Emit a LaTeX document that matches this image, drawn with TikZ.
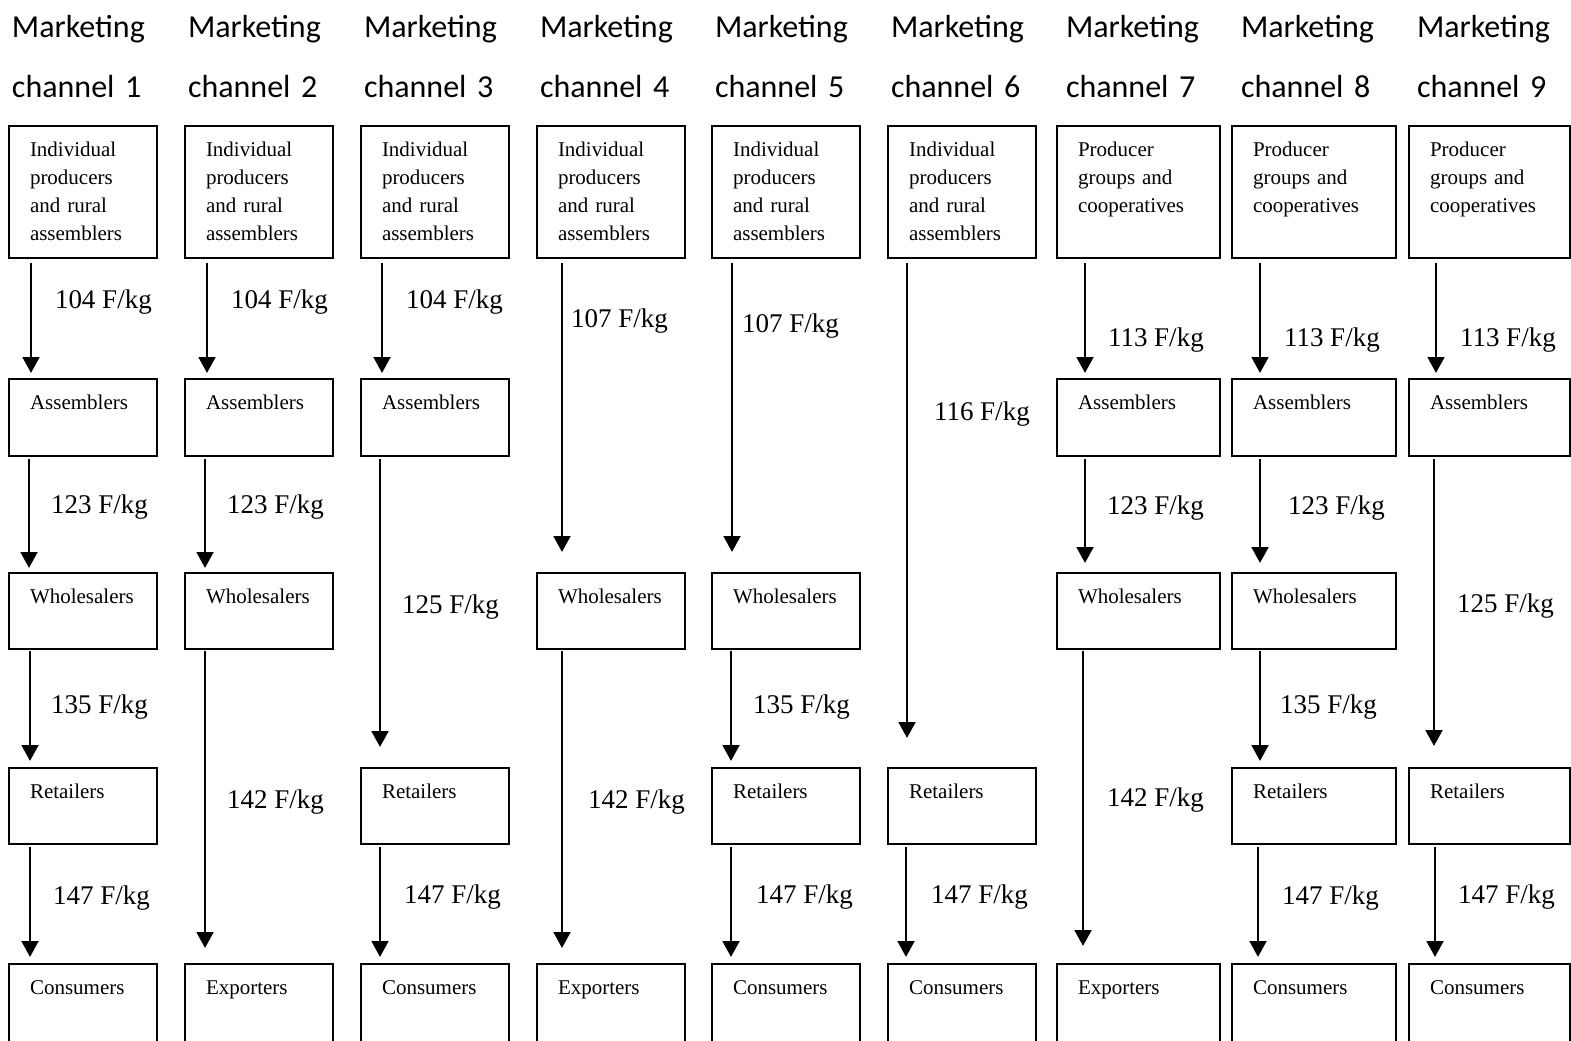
\documentclass[tikz,border=0pt]{standalone}
\usepackage{fontspec}
\setmainfont{Liberation Serif}
\newfontfamily\headfont{Carlito}
\usetikzlibrary{arrows.meta,calc}

% one unit = one pixel of a 1571 x 1040 sheet (0.75pt), y grows downwards
\tikzset{
  stage/.style 2 args={draw, line width=1.5pt, anchor=north west, inner sep=0pt,
    outer sep=0pt, minimum width=#1*0.75pt, minimum height=#2*0.75pt},
  stagetext/.style={anchor=base west, inner sep=0pt, outer sep=0pt, align=left,
    text width=130*0.75pt, font=\rmfamily\fontsize{15.75}{21}\selectfont},
  price/.style={anchor=base west, inner sep=0pt, outer sep=0pt,
    font=\rmfamily\fontsize{20.25}{24}\selectfont},
  header/.style={anchor=base west, inner sep=0pt, outer sep=0pt, align=left,
    text width=150*0.75pt, font=\headfont\fontsize{24}{45}\selectfont},
  flowarrow/.style={line width=2.2pt, -{Triangle[width=12.5pt,length=12pt]}},
}

% \stagebox{id}{left}{top}{width}{height}{text}
\newcommand\stagebox[6]{%
  \node[stage={#4}{#5}] (b#1) at (#2,#3) {};
  \node[stagetext] (t#1) at ($(b#1.north west)+(21,30)$) {#6};}
% \flow{from}{to}{x offset}{gap below source}{gap above target}
\newcommand\flow[5]{%
  \draw[flowarrow] ($(b#1.south west)+(#3,#4)$) -- ($(b#2.north west)+(#3,-#5)$);}
% \price{id}{x}{y}{value}
\newcommand\price[4]{\node[price] (p#1) at (#2+2,#3) {#4 F/kg};}

\begin{document}
\begin{tikzpicture}[x=0.75pt,y=-0.75pt]
\path[fill=white] (0,0) rectangle (1571,1040);
\useasboundingbox (0,0) rectangle (1571,1040);

% column headings
\foreach \i/\x in {1/12,2/188,3/364,4/540,5/715,6/891,7/1066,8/1241,9/1417}
  \node[header] (h\i) at (\x,37) {Marketing\\channel \i};

% channel 1
\stagebox{11}{9}{126}{148}{132}{Individual\\producers\\and rural\\assemblers}
\stagebox{12}{9}{379}{148}{77}{Assemblers}
\stagebox{13}{9}{573}{148}{76}{Wholesalers}
\stagebox{14}{9}{768}{148}{76}{Retailers}
\stagebox{15}{9}{964}{148}{100}{Consumers}
\flow{11}{12}{22}{5}{6}
\flow{12}{13}{20}{3}{5}
\flow{13}{14}{21}{2}{7}
\flow{14}{15}{21}{3}{7}
\price{11}{53}{308}{104}
\price{12}{49}{513}{123}
\price{13}{49}{713}{135}
\price{14}{51}{904}{147}

% channel 2
\stagebox{21}{185}{126}{148}{132}{Individual\\producers\\and rural\\assemblers}
\stagebox{22}{185}{379}{148}{77}{Assemblers}
\stagebox{23}{185}{573}{148}{76}{Wholesalers}
\stagebox{25}{185}{964}{148}{100}{Exporters}
\flow{21}{22}{22}{5}{6}
\flow{22}{23}{20}{3}{5}
\flow{23}{25}{20}{2}{16}
\price{21}{229}{308}{104}
\price{22}{225}{513}{123}
\price{23}{225}{808}{142}

% channel 3
\stagebox{31}{361}{126}{148}{132}{Individual\\producers\\and rural\\assemblers}
\stagebox{32}{361}{379}{148}{77}{Assemblers}
\stagebox{34}{361}{768}{148}{76}{Retailers}
\stagebox{35}{361}{964}{148}{100}{Consumers}
\flow{31}{32}{21}{5}{6}
\flow{32}{34}{19}{3}{21}
\flow{34}{35}{19}{3}{7}
\price{31}{404}{308}{104}
\price{32}{400}{613}{125}
\price{34}{402}{903}{147}

% channel 4
\stagebox{41}{537}{126}{148}{132}{Individual\\producers\\and rural\\assemblers}
\stagebox{43}{537}{573}{148}{76}{Wholesalers}
\stagebox{45}{537}{964}{148}{100}{Exporters}
\flow{41}{43}{25}{5}{21}
\flow{43}{45}{25}{2}{16}
\price{41}{569}{327}{107}
\price{43}{586}{808}{142}

% channel 5
\stagebox{51}{712}{126}{148}{132}{Individual\\producers\\and rural\\assemblers}
\stagebox{53}{712}{573}{148}{76}{Wholesalers}
\stagebox{54}{712}{768}{148}{76}{Retailers}
\stagebox{55}{712}{964}{148}{100}{Consumers}
\flow{51}{53}{20}{5}{21}
\flow{53}{54}{19}{2}{7}
\flow{54}{55}{19}{3}{7}
\price{51}{740}{332}{107}
\price{53}{751}{713}{135}
\price{54}{754}{903}{147}

% channel 6
\stagebox{61}{888}{126}{148}{132}{Individual\\producers\\and rural\\assemblers}
\stagebox{64}{888}{768}{148}{76}{Retailers}
\stagebox{65}{888}{964}{148}{100}{Consumers}
\flow{61}{64}{19}{5}{30}
\flow{64}{65}{18}{3}{7}
\price{61}{932}{420}{116}
\price{64}{929}{903}{147}

% channel 7
\stagebox{71}{1057}{126}{163}{132}{Producer\\groups and\\cooperatives}
\stagebox{72}{1057}{379}{163}{77}{Assemblers}
\stagebox{73}{1057}{573}{163}{76}{Wholesalers}
\stagebox{75}{1057}{964}{163}{100}{Exporters}
\flow{71}{72}{28}{5}{6}
\flow{72}{73}{28}{3}{10}
\flow{73}{75}{26}{2}{18}
\price{71}{1106}{346}{113}
\price{72}{1105}{514}{123}
\price{73}{1105}{806}{142}

% channel 8
\stagebox{81}{1232}{126}{164}{132}{Producer\\groups and\\cooperatives}
\stagebox{82}{1232}{379}{164}{77}{Assemblers}
\stagebox{83}{1232}{573}{164}{76}{Wholesalers}
\stagebox{84}{1232}{768}{164}{76}{Retailers}
\stagebox{85}{1232}{964}{164}{100}{Consumers}
\flow{81}{82}{28}{5}{6}
\flow{82}{83}{28}{3}{10}
\flow{83}{84}{28}{2}{7}
\flow{84}{85}{26}{3}{7}
\price{81}{1282}{346}{113}
\price{82}{1286}{514}{123}
\price{83}{1278}{713}{135}
\price{84}{1280}{904}{147}

% channel 9
\stagebox{91}{1409}{126}{160.5}{132}{Producer\\groups and\\cooperatives}
\stagebox{92}{1409}{379}{160.5}{77}{Assemblers}
\stagebox{94}{1409}{768}{160.5}{76}{Retailers}
\stagebox{95}{1409}{964}{160.5}{100}{Consumers}
\flow{91}{92}{27}{5}{6}
\flow{92}{94}{25}{3}{22}
\flow{94}{95}{26}{3}{7}
\price{91}{1458}{346}{113}
\price{92}{1455}{612}{125}
\price{94}{1456}{903}{147}
\end{tikzpicture}
\end{document}
